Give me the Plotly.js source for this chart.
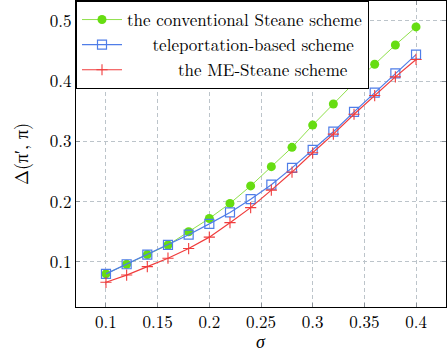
<!DOCTYPE html>
<html>
<head>
<meta charset="utf-8">
<script src="https://cdn.plot.ly/plotly-3.0.1.min.js"></script>
<style>
  html, body { margin: 0; padding: 0; background: #fff; }
  #chart { width: 447px; height: 351px; }
</style>
</head>
<body>
<div id="chart"></div>
<script>
// sigma values and Δ(π′, π) for each scheme
const sigma = [0.10, 0.12, 0.14, 0.16, 0.18, 0.20, 0.22, 0.24,
               0.26, 0.28, 0.30, 0.32, 0.34, 0.36, 0.38, 0.40];
const conventional = [0.080, 0.096, 0.112, 0.128, 0.150, 0.172, 0.197, 0.226,
                      0.258, 0.290, 0.327, 0.362, 0.397, 0.428, 0.460, 0.490];
const teleport = [0.080, 0.096, 0.112, 0.128, 0.145, 0.163, 0.182, 0.204,
                  0.228, 0.256, 0.286, 0.316, 0.349, 0.381, 0.413, 0.444];
const meSteane = [0.066, 0.078, 0.092, 0.106, 0.122, 0.141, 0.165, 0.190,
                  0.219, 0.249, 0.281, 0.312, 0.345, 0.376, 0.407, 0.436];

const xTicks = [0.1, 0.15, 0.2, 0.25, 0.3, 0.35, 0.4];
const xTickText = ['0.1', '0.15', '0.2', '0.25', '0.3', '0.35', '0.4'];
const yTicks = [0.1, 0.2, 0.3, 0.4, 0.5];
const yTickText = ['0.1', '0.2', '0.3', '0.4', '0.5'];

const names = [
  'the conventional Steane scheme',
  'teleportation-based scheme',
  'the ME-Steane scheme',
];

const serif = 'Latin Modern Roman';

// pgfplots centres legend text; fake it with a few leading no-break spaces
const pad = n => '\u00a0'.repeat(n);

// pgfplots-ish axis: black frame, dashed grey grid, small inner ticks
function axis(extra) {
  return Object.assign({
    showline: true, linecolor: '#000', linewidth: 1, mirror: 'ticks',
    ticks: 'inside', ticklen: 4, tickcolor: '#8a9096', tickwidth: 1,
    showgrid: true, gridcolor: '#bcc4ca', gridwidth: 1, griddash: '4px,3px',
    zeroline: false,
    tickfont: { family: serif, size: 17, color: '#000' },
  }, extra);
}

const traces = [
  {
    x: sigma, y: conventional, name: names[0],
    type: 'scatter', mode: 'lines+markers',
    line: { color: '#8fe04a', width: 1 },
    marker: { symbol: 'circle', size: 9, color: '#66dd11' },
  },
  {
    x: sigma, y: teleport, name: pad(3) + names[1],
    type: 'scatter', mode: 'lines+markers',
    line: { color: '#4f7de8', width: 1.2 },
    marker: { symbol: 'square-open', size: 9, color: '#4f7de8', line: { width: 1.2 } },
  },
  {
    x: sigma, y: meSteane, name: pad(6) + names[2],
    type: 'scatter', mode: 'lines+markers',
    line: { color: '#f03c3c', width: 1.2 },
    marker: { symbol: 'cross-thin-open', size: 8, color: '#f03c3c', line: { width: 1.1, color: '#f03c3c' } },
  },
];

const layout = {
  width: 447, height: 351,
  paper_bgcolor: '#fff', plot_bgcolor: '#fff',
  font: { family: serif, size: 17, color: '#000' },
  margin: { l: 76, r: 1, t: 1, b: 44 },
  showlegend: true,
  legend: {
    x: 0, y: 1, xanchor: 'left', yanchor: 'top',
    bgcolor: '#fff', bordercolor: '#000', borderwidth: 1,
    font: { family: serif, size: 17, color: '#000' },
    tracegroupgap: 0, itemwidth: 40,
  },
  xaxis: axis({
    range: [0.071, 0.429],
    tickvals: xTicks, ticktext: xTickText,
  }),
  yaxis: axis({
    range: [0.025, 0.533],
    tickvals: yTicks, ticktext: yTickText,
    title: { text: 'Δ(π′, π)', font: { family: serif, size: 18 }, standoff: 16 },
  }),
  // x label sits lower than plotly's title would put it
  annotations: [{
    text: '<i>σ</i>', xref: 'paper', yref: 'paper', x: 0.5, y: 0,
    yanchor: 'middle', yshift: -33, showarrow: false,
    font: { family: serif, size: 18 },
  }],
};

Plotly.newPlot('chart', traces, layout, { displayModeBar: false, staticPlot: true });
</script>
</body>
</html>
